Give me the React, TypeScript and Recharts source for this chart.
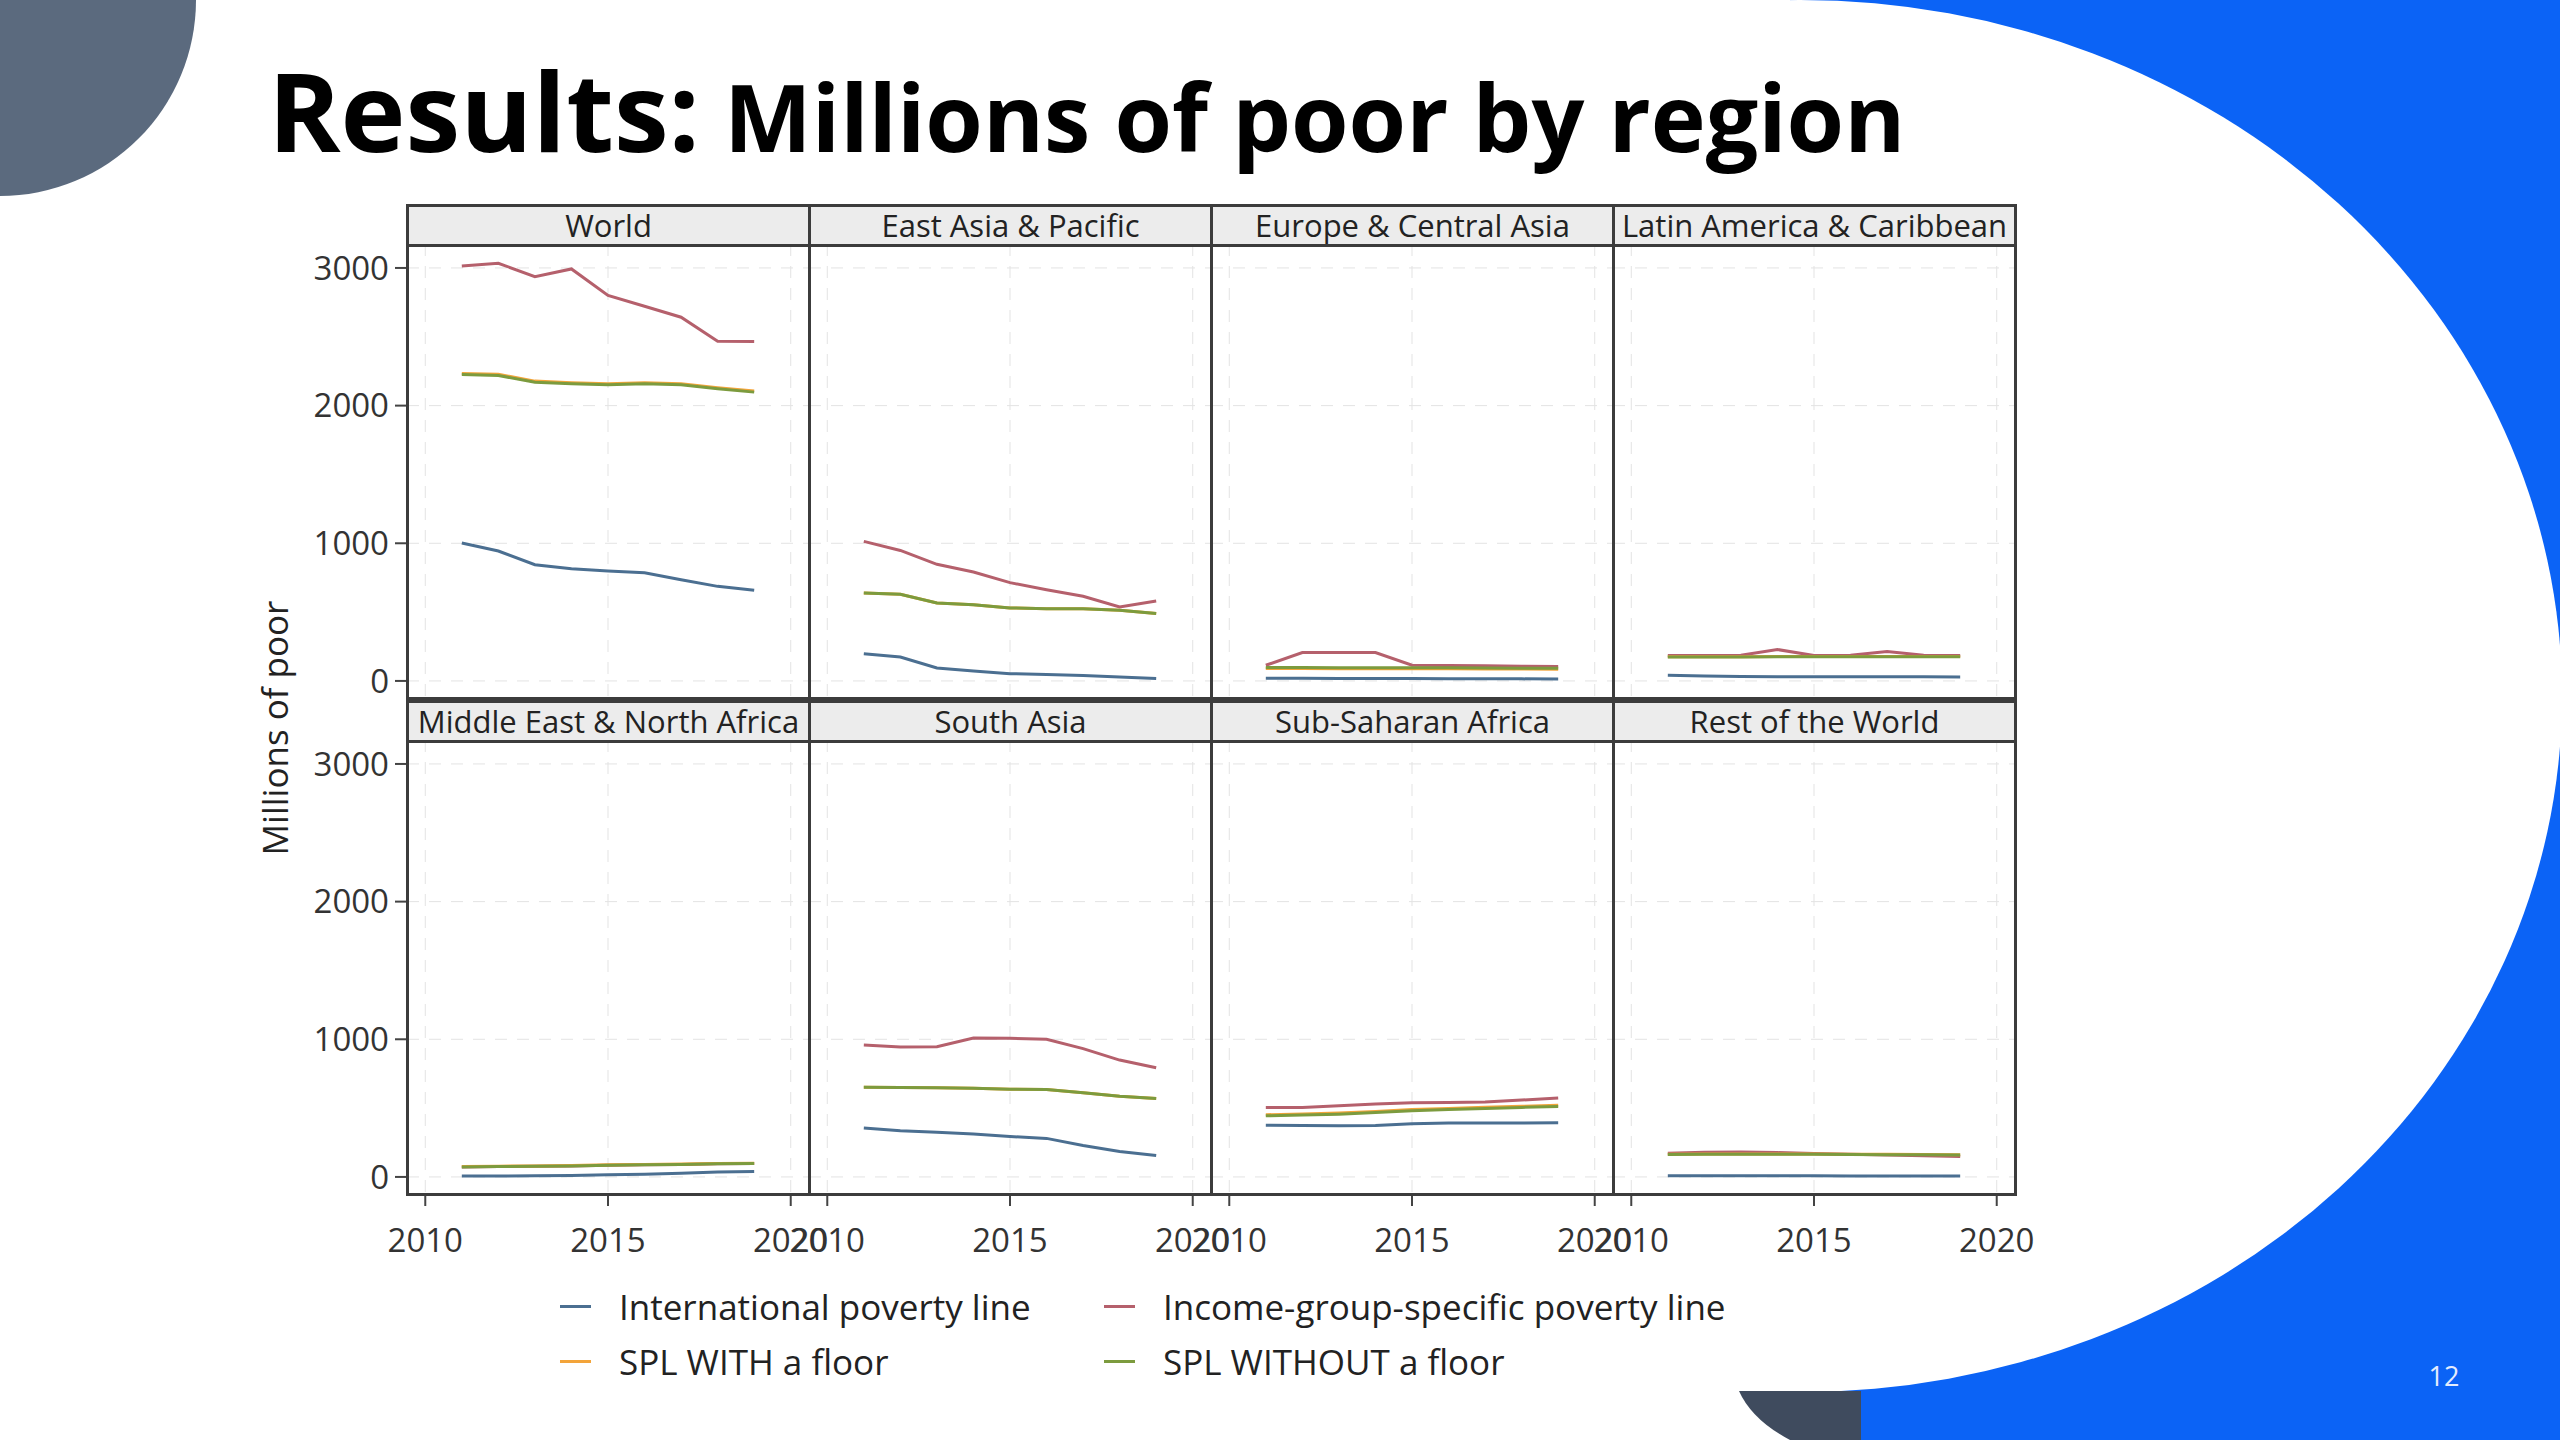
import { LineChart, Line, XAxis, YAxis, CartesianGrid } from 'recharts';

const YEARS = [2011, 2012, 2013, 2014, 2015, 2016, 2017, 2018, 2019];
const X_TICKS = [2010, 2015, 2020];
const Y_TICKS = [0, 1000, 2000, 3000];

// World
const worldIpl = [1002, 944, 844, 815, 798, 786, 735, 687, 658];
const worldIgspl = [3015, 3034, 2937, 2993, 2800, 2722, 2642, 2468, 2466];
const worldFloor = [2234, 2227, 2178, 2166, 2159, 2166, 2159, 2130, 2106];
const worldNoFloor = [2226, 2219, 2170, 2158, 2151, 2158, 2151, 2122, 2098];

// East Asia & Pacific
const eapIpl = [198, 174, 94, 73, 53, 46, 39, 29, 17];
const eapIgspl = [1014, 948, 847, 791, 714, 663, 615, 537, 581];
const eapFloor = [639, 629, 566, 554, 530, 525, 525, 513, 489];
const eapNoFloor = [639, 629, 566, 554, 530, 525, 525, 513, 489];

// Europe & Central Asia
const ecaIpl = [20, 19, 18, 18, 17, 16, 15, 15, 14];
const ecaIgspl = [114, 206, 206, 206, 114, 112, 110, 106, 104];
const ecaFloor = [90, 90, 89, 89, 88, 88, 87, 86, 85];
const ecaNoFloor = [97, 97, 96, 96, 95, 95, 94, 93, 92];

// Latin America & Caribbean
const lacIpl = [41, 36, 32, 31, 31, 30, 30, 30, 29];
const lacIgspl = [184, 184, 186, 228, 184, 186, 213, 186, 184];
const lacFloor = [176, 176, 176, 177, 177, 177, 177, 177, 178];
const lacNoFloor = [174, 174, 174, 175, 175, 175, 175, 175, 176];

// Middle East & North Africa
const menaIpl = [7, 7, 8, 10, 15, 20, 27, 35, 39];
const menaIgspl = [73, 75, 77, 80, 85, 88, 91, 95, 97];
const menaFloor = [76, 78, 80, 83, 88, 91, 94, 98, 100];
const menaNoFloor = [73, 75, 77, 80, 85, 88, 91, 95, 97];

// South Asia
const sarIpl = [355, 336, 324, 311, 294, 280, 229, 185, 156];
const sarIgspl = [959, 944, 946, 1009, 1007, 1000, 932, 849, 793];
const sarFloor = [652, 650, 647, 645, 637, 635, 611, 586, 569];
const sarNoFloor = [652, 650, 647, 645, 637, 635, 611, 586, 569];

// Sub-Saharan Africa
const ssaIpl = [376, 374, 371, 374, 386, 391, 391, 391, 393];
const ssaIgspl = [505, 505, 517, 529, 539, 541, 544, 558, 573];
const ssaFloor = [452, 457, 464, 476, 489, 498, 506, 513, 520];
const ssaNoFloor = [444, 449, 456, 468, 481, 490, 498, 505, 512];

// Rest of the World
const rowIpl = [9, 9, 8, 8, 8, 7, 7, 7, 7];
const rowIgspl = [172, 180, 182, 177, 170, 165, 160, 153, 148];
const rowFloor = [165, 166, 167, 167, 166, 165, 164, 163, 162];
const rowNoFloor = [163, 164, 165, 165, 164, 163, 162, 161, 160];

const PANELS = [
  { title: 'World', ipl: worldIpl, igspl: worldIgspl, floor: worldFloor, noFloor: worldNoFloor },
  { title: 'East Asia & Pacific', ipl: eapIpl, igspl: eapIgspl, floor: eapFloor, noFloor: eapNoFloor },
  { title: 'Europe & Central Asia', ipl: ecaIpl, igspl: ecaIgspl, floor: ecaFloor, noFloor: ecaNoFloor },
  { title: 'Latin America & Caribbean', ipl: lacIpl, igspl: lacIgspl, floor: lacFloor, noFloor: lacNoFloor },
  { title: 'Middle East & North Africa', ipl: menaIpl, igspl: menaIgspl, floor: menaFloor, noFloor: menaNoFloor },
  { title: 'South Asia', ipl: sarIpl, igspl: sarIgspl, floor: sarFloor, noFloor: sarNoFloor },
  { title: 'Sub-Saharan Africa', ipl: ssaIpl, igspl: ssaIgspl, floor: ssaFloor, noFloor: ssaNoFloor },
  { title: 'Rest of the World', ipl: rowIpl, igspl: rowIgspl, floor: rowFloor, noFloor: rowNoFloor },
];

const SERIES = [
  { key: 'ipl', name: 'International poverty line', color: '#4B6F91' },
  { key: 'igspl', name: 'Income-group-specific poverty line', color: '#B5606C' },
  { key: 'floor', name: 'SPL WITH a floor', color: '#F3A43A' },
  { key: 'noFloor', name: 'SPL WITHOUT a floor', color: '#7C9B3E' },
];

const FONT = '"Open Sans", "Noto Sans", sans-serif';
const FRAME = '#3c3c3c';

const GRID_LEFT = 407;
const GRID_TOP = 204;
const PANEL_W = 402;
const HEADER_H = 40;
const PLOT_H = 454;
const ROW_PITCH = 496;

function Panel({ panel, index }: { panel: typeof PANELS[number]; index: number }) {
  const col = index % 4;
  const row = Math.floor(index / 4);
  const px = GRID_LEFT + col * PANEL_W;
  const top = GRID_TOP + row * ROW_PITCH;
  const plotTop = top + HEADER_H;
  const firstCol = col === 0;
  const bottomRow = row === 1;
  const yAxisW = 130;
  const left = firstCol ? px - yAxisW : px - 40;
  const width = (firstCol ? yAxisW : 40) + PANEL_W + 40;
  const height = 10 + PLOT_H + (bottomRow ? 75 : 10);

  const data = YEARS.map((year, i) => ({
    year,
    ipl: panel.ipl[i],
    igspl: panel.igspl[i],
    floor: panel.floor[i],
    noFloor: panel.noFloor[i],
  }));

  const tickStyle = { fill: '#333', fontSize: 33, fontFamily: FONT };

  return (
    <>
      <div style={{ position: 'absolute', left, top: plotTop - 10 }}>
        <LineChart
          width={width}
          height={height}
          data={data}
          margin={{ top: 10, right: 40, bottom: bottomRow ? 0 : 10, left: firstCol ? 0 : 40 }}
        >
          <CartesianGrid
            stroke="#e3e3e3"
            strokeDasharray="12 10"
            horizontalValues={Y_TICKS}
            verticalValues={X_TICKS}
          />
          <XAxis
            type="number"
            dataKey="year"
            domain={[2009.5, 2020.5]}
            ticks={X_TICKS}
            interval={0}
            allowDataOverflow
            hide={!bottomRow}
            height={75}
            axisLine={false}
            tickSize={12}
            tickMargin={23}
            tickLine={{ stroke: '#444', strokeWidth: 2 }}
            tick={tickStyle}
          />
          <YAxis
            type="number"
            domain={[-124, 3174]}
            ticks={Y_TICKS}
            interval={0}
            allowDataOverflow
            hide={!firstCol}
            width={yAxisW}
            axisLine={false}
            tickSize={12}
            tickMargin={6}
            tickLine={{ stroke: '#444', strokeWidth: 2 }}
            tick={tickStyle}
          />
          {SERIES.map((s) => (
            <Line
              key={s.key}
              dataKey={s.key}
              stroke={s.color}
              strokeWidth={3}
              dot={false}
              isAnimationActive={false}
            />
          ))}
        </LineChart>
      </div>
      <div
        style={{
          position: 'absolute',
          left: px - 1,
          top: top,
          width: PANEL_W + 3,
          height: HEADER_H + PLOT_H + 2,
          border: `3px solid ${FRAME}`,
          boxSizing: 'border-box',
          pointerEvents: 'none',
        }}
      >
        <div
          style={{
            height: HEADER_H - 3,
            background: '#ececec',
            borderBottom: `3px solid ${FRAME}`,
            fontFamily: FONT,
            fontSize: 31,
            color: '#222',
            textAlign: 'center',
            lineHeight: `${HEADER_H - 3}px`,
            whiteSpace: 'nowrap',
          }}
        >
          {panel.title}
        </div>
      </div>
    </>
  );
}

export default function App() {
  return (
    <div
      style={{
        position: 'absolute',
        left: 0,
        top: 0,
        width: 2560,
        height: 1440,
        background: '#fff',
        overflow: 'hidden',
        fontFamily: FONT,
      }}
    >
      <svg width={2560} height={1440} style={{ position: 'absolute', left: 0, top: 0 }}>
        <circle cx={0} cy={0} r={196} fill="#5B6A7E" />
        <rect x={1790} y={0} width={770} height={1440} fill="#0B63F6" />
        <ellipse cx={1800} cy={696} rx={762} ry={696} fill="#fff" />
        <path d="M1739,1391 L1861,1391 L1861,1440 L1790,1440 Q1752,1420 1739,1391 Z" fill="#3F4B5E" />
      </svg>

      <div
        style={{
          position: 'absolute',
          left: 268,
          top: 54,
          whiteSpace: 'nowrap',
          fontWeight: 700,
          color: '#000',
          lineHeight: 1,
        }}
      >
        <span style={{ fontSize: 110 }}>Results:</span>
        <span style={{ fontSize: 93 }}> Millions of poor by region</span>
      </div>

      {PANELS.map((p, i) => (
        <Panel key={p.title} panel={p} index={i} />
      ))}

      <div
        style={{
          position: 'absolute',
          left: 274,
          top: 728,
          transform: 'translate(-50%, -50%) rotate(-90deg)',
          fontSize: 35,
          color: '#222',
          whiteSpace: 'nowrap',
        }}
      >
        Millions of poor
      </div>

      {SERIES.map((s, i) => {
        const col = i % 2;
        const row = Math.floor(i / 2);
        return (
          <div
            key={s.key}
            style={{
              position: 'absolute',
              left: col === 0 ? 560 : 1104,
              top: (row === 0 ? 1306 : 1361) - 24,
              height: 48,
              display: 'flex',
              alignItems: 'center',
              whiteSpace: 'nowrap',
            }}
          >
            <div style={{ width: 31, height: 3, background: s.color, marginRight: 28 }} />
            <span style={{ fontSize: 35, color: '#222' }}>{s.name}</span>
          </div>
        );
      })}

      <div
        style={{
          position: 'absolute',
          left: 2444,
          top: 1375,
          transform: 'translate(-50%, -50%)',
          fontSize: 27,
          color: '#e4ecfd',
        }}
      >
        12
      </div>
    </div>
  );
}
